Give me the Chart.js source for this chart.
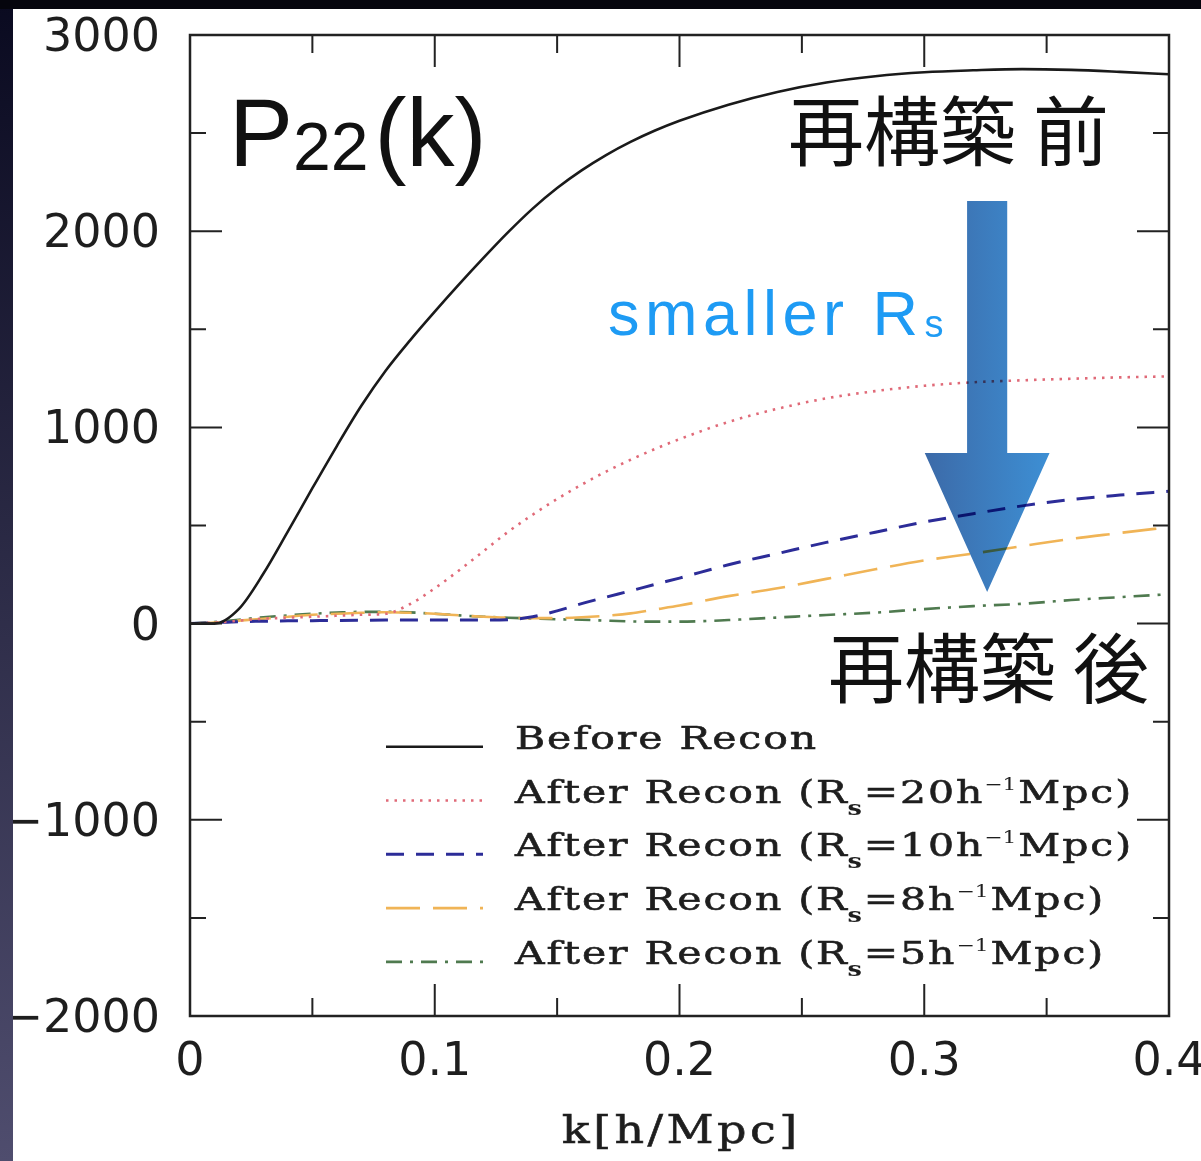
<!DOCTYPE html>
<html><head><meta charset="utf-8">
<script src="https://cdn.jsdelivr.net/npm/chart.js@4/dist/chart.umd.min.js"></script>
<style>html,body{margin:0;padding:0;background:#fff;overflow:hidden}canvas{display:block}</style>
</head><body>
<canvas id="c" width="1201" height="1161"></canvas>
<script>
// ---- data ----
const kValues = [0,0.01,0.02,0.03,0.04,0.05,0.06,0.07,0.08,0.09,0.1,0.11,0.12,0.13,0.14,0.15,0.16,0.17,0.18,0.19,0.2,0.22,0.24,0.26,0.28,0.3,0.32,0.34,0.36,0.38,0.4];
const beforeRecon  = [0,0,75,255,470,690,905,1110,1290,1445,1590,1730,1865,1995,2115,2220,2310,2388,2455,2513,2563,2645,2710,2758,2790,2810,2820,2826,2822,2812,2800];
const afterRecon20 = [0,5,15,25,30,35,40,45,50,100,180,272,370,468,555,635,708,775,835,890,940,1028,1095,1148,1185,1212,1230,1240,1248,1255,1260];
const afterRecon10 = [0,5,10,12,14,15,16,17,18,18,18,18,18,20,35,65,102,135,167,200,232,300,357,414,466,518,560,600,632,655,675];
const afterRecon8  = [0,5,15,25,35,45,50,55,58,55,50,42,35,30,28,28,32,40,52,72,92,140,180,228,277,322,357,395,432,462,492];
const afterRecon5  = [0,8,20,32,42,50,56,60,60,57,50,42,35,30,26,22,20,15,11,10,10,18,31,44,56,74,89,101,120,135,150];
const seriesLabels = ['Before Recon','After Recon (R_{s}=20h^{−1}Mpc)','After Recon (R_{s}=10h^{−1}Mpc)','After Recon (R_{s}=8h^{−1}Mpc)','After Recon (R_{s}=5h^{−1}Mpc)'];
const xTickValues = [0,0.1,0.2,0.3,0.4];
const xTickLabels = ['0','0.1','0.2','0.3','0.4'];
const yTickValues = [-2000,-1000,0,1000,2000,3000];
const yTickLabels = ['−2000','−1000','0','1000','2000','3000'];
const xTitle = 'k[h/Mpc]';

// ---- styles ----
const seriesValues = [beforeRecon, afterRecon20, afterRecon10, afterRecon8, afterRecon5];
const seriesColors = ['#1a1a1a','#e06a78','#2c2c98','#f0b456','#4f7a4f'];
const seriesWidths = [2.6,2.6,3,2.6,2.6];
const seriesDashes = [[],[2.5,6],[18,12],[34,13],[16,8,3,8]];

const C = document.getElementById('c');

function richParts(label){
  const out=[];
  label.split(/(_\{[^}]*\}|\^\{[^}]*\})/).forEach(p=>{
    if(!p) return;
    if(p.startsWith('_{')) out.push({t:p.slice(2,-1),kind:'sub'});
    else if(p.startsWith('^{')) out.push({t:p.slice(2,-1),kind:'sup'});
    else out.push({t:p,kind:'n'});
  });
  return out;
}
function drawSpaced(ctx,text,x,y,sp,stroke){
  let cx=x;
  for(const ch of text){ ctx.fillText(ch,cx,y); if(stroke) ctx.strokeText(ch,cx,y); cx+=ctx.measureText(ch).width+sp; }
  return cx-x;
}

const decor = {
  id:'decor',
  beforeDraw(chart){
    const c=chart.ctx; c.save(); c.fillStyle='#fff'; c.fillRect(0,0,chart.width,chart.height); c.restore();
  },
  afterDatasetsDraw(chart){
    const c=chart.ctx, a=chart.chartArea, x=chart.scales.x, y=chart.scales.y;
    c.save();
    // arrow (multiply so lines show through darker)
    const ax=x.getPixelForValue(0.3257), shw=x.getPixelForValue(0.3257+0.0082)-ax, hhw=x.getPixelForValue(0.3257+0.0255)-ax;
    const aTop=y.getPixelForValue(2154), aHead=y.getPixelForValue(870), aTip=y.getPixelForValue(161);
    const g=c.createLinearGradient(ax-hhw,0,ax+hhw,0); g.addColorStop(0,'#3c6aa8'); g.addColorStop(1,'#3d8fd4');
    c.globalCompositeOperation='multiply';
    c.fillStyle=g;
    c.beginPath(); c.moveTo(ax-shw,aTop); c.lineTo(ax+shw,aTop); c.lineTo(ax+shw,aHead); c.lineTo(ax+hhw,aHead);
    c.lineTo(ax,aTip); c.lineTo(ax-hhw,aHead); c.lineTo(ax-shw,aHead); c.closePath(); c.fill();
    c.globalCompositeOperation='source-over';
    // frame
    c.strokeStyle='#222'; c.lineWidth=2.5; c.setLineDash([]);
    c.strokeRect(a.left,a.top,a.right-a.left,a.bottom-a.top);
    // inner ticks on all sides
    c.lineWidth=2;
    x.ticks.forEach(t=>{
      const px=x.getPixelForValue(t.value); const major=Math.abs(t.value*10-Math.round(t.value*10))<1e-6;
      const L=major?32:18;
      c.beginPath(); c.moveTo(px,a.bottom); c.lineTo(px,a.bottom-L); c.moveTo(px,a.top); c.lineTo(px,a.top+L); c.stroke();
    });
    y.ticks.forEach(t=>{
      const py=y.getPixelForValue(t.value); const major=Math.abs(t.value%1000)<1e-6;
      const L=major?32:16;
      c.beginPath(); c.moveTo(a.left,py); c.lineTo(a.left+L,py); c.moveTo(a.right,py); c.lineTo(a.right-L,py); c.stroke();
    });
    // legend
    const lx0=a.left+196, lx1=a.left+293, tx=a.left+325;
    chart.data.datasets.forEach((ds,i)=>{
      const ly=a.top+711.7+i*53.8;
      c.strokeStyle=ds.borderColor; c.lineWidth=ds.borderWidth; c.setLineDash(ds.borderDash||[]);
      c.beginPath(); c.moveTo(lx0,ly); c.lineTo(lx1,ly); c.stroke(); c.setLineDash([]);
      c.save(); c.translate(tx,ly+2); c.scale(1.28,1); c.fillStyle='#1e1e1e'; c.strokeStyle='#1e1e1e'; c.lineWidth=0.6; c.textBaseline='alphabetic';
      let cx=0;
      richParts(seriesLabels[i]).forEach(p=>{
        if(p.kind==='n'){ c.font='32px "DejaVu Serif"'; cx+=drawSpaced(c,p.t,cx,0,1.5,true); }
        else if(p.kind==='sub'){ c.font='bold 20px "DejaVu Serif"'; cx+=drawSpaced(c,p.t,cx-1,12,0.5,false); }
        else { c.font='17px "DejaVu Serif"'; cx+=drawSpaced(c,p.t,cx,-13,0,false)+1.5; }
      });
      c.restore();
    });
    // x axis title
    c.save(); c.fillStyle='#1e1e1e'; c.strokeStyle='#1e1e1e'; c.lineWidth=0.6; c.font='40px "DejaVu Serif"'; c.textBaseline='alphabetic';
    let w=0; for(const ch of xTitle) w+=c.measureText(ch).width+3; w-=3;
    const sx=1.15; c.translate((a.left+a.right)/2 - w*sx/2, 1143); c.scale(sx,1); drawSpaced(c,xTitle,0,0,3,true); c.restore();
    // annotations
    c.fillStyle='#111'; c.textBaseline='alphabetic';
    let px=x.getPixelForValue(0.0159), py=y.getPixelForValue(2332);
    c.font='96px "Liberation Sans"'; c.fillText('P',px,py); px+=c.measureText('P').width;
    c.font='68px "Liberation Sans"'; c.fillText('22',px,py+4); px+=c.measureText('22').width+6;
    c.font='96px "Liberation Sans"'; c.fillText('(k)',px,py);
    c.font='76px "Noto Sans CJK JP"';
    c.fillText('再構築 前', x.getPixelForValue(0.2443), y.getPixelForValue(2363));
    c.fillText('再構築 後', x.getPixelForValue(0.2607), y.getPixelForValue(-374));
    c.fillStyle='#1e9bf4';
    px=x.getPixelForValue(0.1708); py=y.getPixelForValue(1471);
    c.font='63px "Liberation Sans"'; px+=drawSpaced(c,'smaller R',px,py,5.5,false);
    c.font='38px "Liberation Sans"'; c.fillText('s',px+1,py+2);
    c.restore();
  },
  afterDraw(chart){
    const c=chart.ctx; c.save();
    const g=c.createLinearGradient(0,0,0,chart.height); g.addColorStop(0,'#0a0a20'); g.addColorStop(1,'#4f4d6e');
    c.fillStyle=g; c.fillRect(0,0,13,chart.height);
    c.fillStyle='#05050d'; c.fillRect(0,0,chart.width,9);
    c.restore();
  }
};

new Chart(C,{
  type:'line',
  data:{datasets:seriesValues.map((vals,i)=>({
    label:seriesLabels[i],
    data:kValues.map((k,j)=>({x:k,y:vals[j]})),
    borderColor:seriesColors[i], borderWidth:seriesWidths[i], borderDash:seriesDashes[i],
    pointRadius:0, cubicInterpolationMode:'monotone', fill:false
  }))},
  options:{
    responsive:false, animation:false, devicePixelRatio:1,
    layout:{padding:{top:35,right:32,left:0,bottom:0}},
    plugins:{legend:{display:false},tooltip:{enabled:false}},
    scales:{
      x:{type:'linear',min:0,max:0.4,grid:{display:false,drawTicks:false},border:{display:false},
        ticks:{stepSize:0.05,autoSkip:false,maxRotation:0,minRotation:0,padding:19,color:'#1e1e1e',font:{family:'DejaVu Sans',size:46},
          callback:v=>{const i=xTickValues.findIndex(t=>Math.abs(t-v)<1e-9);return i>=0?xTickLabels[i]:'';}},
        afterFit(s){s.height=145;s.paddingLeft=0;s.paddingRight=0;s.paddingTop=0;s.paddingBottom=0;}},
      y:{type:'linear',min:-2000,max:3000,grid:{display:false,drawTicks:false},border:{display:false},
        ticks:{stepSize:500,autoSkip:false,padding:30,labelOffset:4,color:'#1e1e1e',font:{family:'DejaVu Sans',size:46},
          callback:v=>{const i=yTickValues.findIndex(t=>Math.abs(t-v)<1e-9);return i>=0?yTickLabels[i]:'';}},
        afterFit(s){s.width=190;s.paddingTop=0;s.paddingBottom=0;s.paddingLeft=0;s.paddingRight=0;}}
    }
  },
  plugins:[decor]
});
</script>
</body></html>
